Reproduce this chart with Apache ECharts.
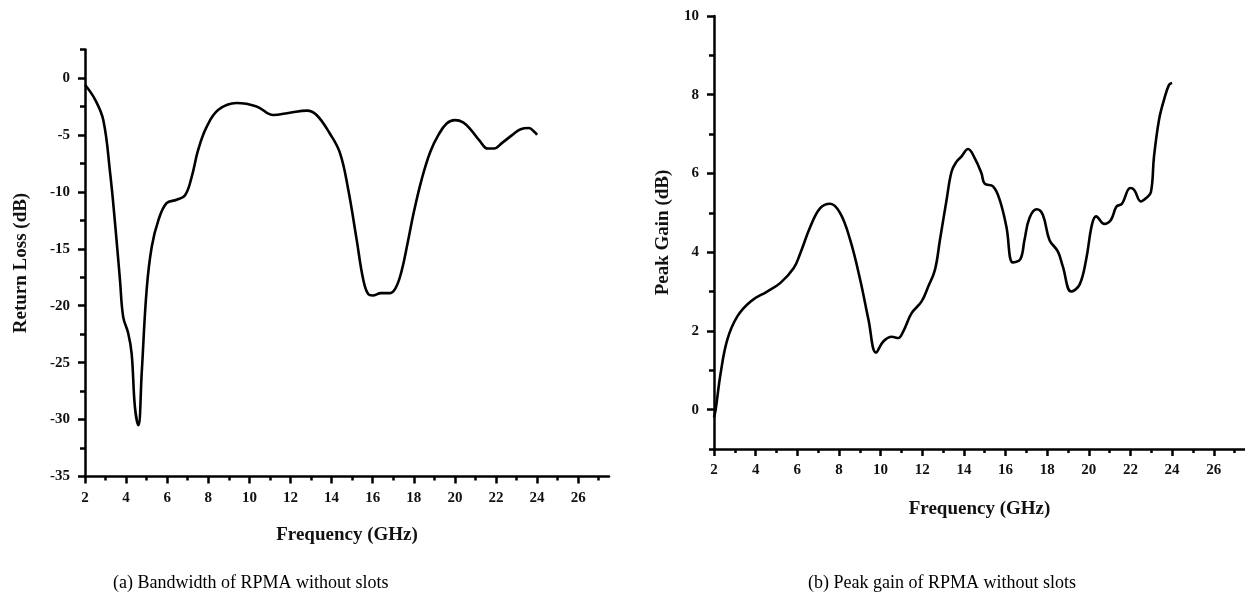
<!DOCTYPE html>
<html>
<head>
<meta charset="utf-8">
<script src="https://cdn.jsdelivr.net/npm/echarts@6/dist/echarts.min.js"></script>
<style>html,body{margin:0;padding:0;background:#fff;}#c{width:1245px;height:605px;}</style>
</head>
<body>
<div id="c"></div>
<script>
// Chart (a): Return loss
const freqA = [2.0,2.49,2.89,3.22,3.46,3.70,3.86,4.10,4.27,4.43,4.60,4.76,5.00,5.25,5.57,5.97,6.46,6.87,7.19,7.51,7.92,8.49,9.38,10.35,11.16,11.97,12.8,13.27,13.92,14.41,14.81,15.22,15.54,15.79,16.0,16.4,16.8,17.1,17.4,17.7,18.0,18.4,18.8,19.2,19.6,20.0,20.4,20.8,21.2,21.6,21.9,22.3,22.8,23.2,23.6,23.9,24.0];
const returnLoss = [-0.6,-1.9,-3.7,-8.3,-12.7,-17.7,-21.0,-22.4,-24.2,-28.9,-30.5,-25.9,-18.6,-14.8,-12.5,-11.0,-10.7,-10.3,-8.7,-6.3,-4.3,-2.8,-2.2,-2.5,-3.25,-3.05,-2.87,-3.25,-4.9,-6.6,-9.8,-14.2,-17.7,-19.0,-19.1,-18.9,-18.9,-18.5,-17.0,-14.5,-11.8,-8.8,-6.5,-5.0,-4.0,-3.7,-3.9,-4.6,-5.5,-6.2,-6.2,-5.7,-5.0,-4.5,-4.4,-4.8,-5.0];

// Chart (b): Peak gain
const freqB = [2.0,2.08,2.32,2.64,3.12,3.76,4.55,5.19,5.83,6.15,6.63,7.1,7.58,8.06,8.54,9.02,9.42,9.78,10.13,10.54,10.85,11.09,11.49,11.97,12.29,12.61,12.85,13.17,13.41,13.65,13.88,14.2,14.52,14.84,15.0,15.4,15.72,16.04,16.35,16.71,16.91,17.15,17.5,17.79,18.11,18.51,18.75,19.15,19.55,19.87,20.15,20.35,20.74,21.06,21.33,21.59,21.99,22.18,22.5,22.74,22.98,23.13,23.37,23.61,23.85,24.0];
const peakGain = [-0.2,0.0,0.93,1.78,2.37,2.75,3.0,3.22,3.6,3.98,4.65,5.12,5.23,4.99,4.31,3.3,2.28,1.45,1.73,1.85,1.82,1.99,2.45,2.75,3.13,3.55,4.31,5.33,6.05,6.3,6.43,6.62,6.39,6.01,5.74,5.67,5.33,4.65,3.74,3.82,4.31,4.87,5.09,4.95,4.31,4.02,3.64,3.0,3.17,3.81,4.7,4.91,4.72,4.82,5.16,5.23,5.63,5.58,5.29,5.37,5.52,6.43,7.36,7.87,8.25,8.3];

// Tick values
const xMajorTicks = [2,4,6,8,10,12,14,16,18,20,22,24,26];
const xMinorTicks = [3,5,7,9,11,13,15,17,19,21,23,25,27];
const yMajorTicksA = [0,-5,-10,-15,-20,-25,-30,-35];
const yMinorTicksA = [2.5,-2.5,-7.5,-12.5,-17.5,-22.5,-27.5,-32.5];
const yMajorTicksB = [0,2,4,6,8,10];
const yMinorTicksB = [-1,1,3,5,7,9];

const captionA = '(a) Bandwidth of RPMA without slots';
const captionB = '(b) Peak gain of RPMA without slots';

const FONT = '"Liberation Serif","Times New Roman",serif';
const lineStyle = {color:'#000', width:2.5};
const labelStyle = {color:'#111', fontFamily:FONT, fontWeight:'bold', fontSize:15};
const nameStyle = {color:'#111', fontFamily:FONT, fontWeight:'bold', fontSize:19};

function xAx(grid, major, name, gap) {
  return {
    type:'value', gridIndex:grid, position:'bottom', min:2, max:27.5,
    axisLine:{show:major, onZero:false, lineStyle:lineStyle},
    axisTick:{show:true, inside:false, length: major?7:4, lineStyle:{color:'#000', width:2.5},
      customValues: major ? xMajorTicks : xMinorTicks},
    axisLabel:{show:major, margin:14, customValues:xMajorTicks, ...labelStyle},
    splitLine:{show:false},
    name: major ? name : '', nameLocation:'middle', nameGap:gap, nameTextStyle:nameStyle
  };
}
function yAx(grid, major, min, max, majT, minT, name, gap) {
  return {
    type:'value', gridIndex:grid, position:'left', min:min, max:max,
    axisLine:{show:major, onZero:false, lineStyle:lineStyle},
    axisTick:{show:true, inside:false, length: major?7:5, lineStyle:{color:'#000', width:2.5},
      customValues: major ? majT : minT},
    axisLabel:{show:major, margin:15, customValues:majT, ...labelStyle},
    splitLine:{show:false},
    name: major ? name : '', nameLocation:'middle', nameGap:gap, nameTextStyle:nameStyle
  };
}

const chart = echarts.init(document.getElementById('c'), null, {renderer:'canvas'});
chart.setOption({
  backgroundColor:'#fff',
  animation:false,
  grid:[
    {left:85, right:636, top:49.5, bottom:128.5, containLabel:false},
    {left:714, right:0, top:16, bottom:156, containLabel:false}
  ],
  xAxis:[
    xAx(0,true,'Frequency (GHz)',49), xAx(0,false,'',0),
    xAx(1,true,'Frequency (GHz)',51), xAx(1,false,'',0)
  ],
  yAxis:[
    yAx(0,true,-35,2.5,yMajorTicksA,yMinorTicksA,'Return Loss (dB)',54),
    yAx(0,false,-35,2.5,yMajorTicksA,yMinorTicksA,'',0),
    yAx(1,true,-1,10,yMajorTicksB,yMinorTicksB,'Peak Gain (dB)',41),
    yAx(1,false,-1,10,yMajorTicksB,yMinorTicksB,'',0)
  ],
  series:[
    {type:'line', xAxisIndex:0, yAxisIndex:0, data:freqA.map((f,i)=>[f,returnLoss[i]]),
      smooth:0.4, symbol:'none', lineStyle:{color:'#000', width:2.6}},
    {type:'line', xAxisIndex:2, yAxisIndex:2, data:freqB.map((f,i)=>[f,peakGain[i]]),
      smooth:0.4, symbol:'none', lineStyle:{color:'#000', width:2.6}}
  ],
  graphic:[
    {type:'text', left:113, top:574, style:{text:captionA, font:'18px '+FONT, fill:'#000'}},
    {type:'text', left:808, top:574, style:{text:captionB, font:'18px '+FONT, fill:'#000'}}
  ]
});
</script>
</body>
</html>
